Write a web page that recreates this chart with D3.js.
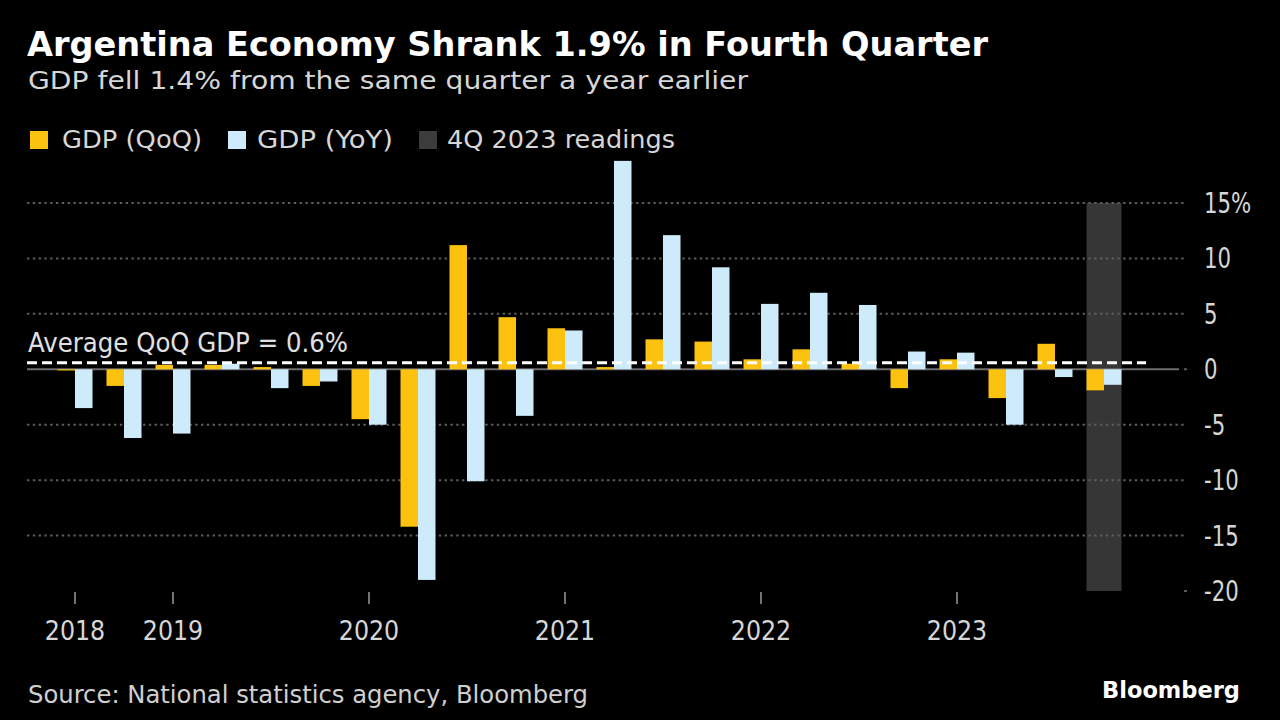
<!DOCTYPE html>
<html><head><meta charset="utf-8">
<script src="https://cdn.jsdelivr.net/npm/d3@7"></script>
<style>
html,body{margin:0;padding:0;background:#000;}
svg{display:block;}
text{font-family:"DejaVu Sans",sans-serif;}
</style></head><body>
<svg id="c" width="1280" height="720"></svg>
<script>
// ---- data ----
const quarters = ['2018Q3','2018Q4','2019Q1','2019Q2','2019Q3','2019Q4','2020Q1','2020Q2','2020Q3','2020Q4',
  '2021Q1','2021Q2','2021Q3','2021Q4','2022Q1','2022Q2','2022Q3','2022Q4','2023Q1','2023Q2','2023Q3','2023Q4'];
const qoq = [-0.1, -1.5, 0.4, 0.4, 0.2, -1.5, -4.5, -14.2, 11.2, 4.7, 3.7, 0.2, 2.7, 2.5, 0.9, 1.8, 0.5, -1.7, 0.9, -2.6, 2.3, -1.9];
const yoy = [-3.5, -6.2, -5.8, 0.5, -1.7, -1.1, -5.0, -19.0, -10.1, -4.2, 3.5, 18.8, 12.1, 9.2, 5.9, 6.9, 5.8, 1.6, 1.5, -5.0, -0.7, -1.4];
const yTicks = [15, 10, 5, 0, -5, -10, -15, -20];
const yTickLabels = ['15%', '10', '5', '0', '-5', '-10', '-15', '-20'];
const yearTickQuarters = ['2018Q3','2019Q1','2020Q1','2021Q1','2022Q1','2023Q1'];
const yearLabels = ['2018','2019','2020','2021','2022','2023'];
const avgQoQ = 0.6;
const highlightQuarter = '2023Q4';
const legendLabels = ['GDP (QoQ)', 'GDP (YoY)', '4Q 2023 readings'];
const seriesKeys = ['qoq', 'yoy'];

const titleText = 'Argentina Economy Shrank 1.9% in Fourth Quarter';
const subtitleText = 'GDP fell 1.4% from the same quarter a year earlier';
const avgLabelText = 'Average QoQ GDP = 0.6%';
const sourceText = 'Source: National statistics agency, Bloomberg';

// ---- styles ----
const C = { qoq: '#FCC20F', yoy: '#CDEBFA', hl: '#363636', grid: '#5c5c5c', zero: '#6e6e6e', text: '#d6d6d6' };

const svg = d3.select('#c');
svg.append('rect').attr('width', 1280).attr('height', 720).attr('fill', '#000');

const x = d3.scaleBand().domain(quarters).range([50.5, 1128.5]).paddingInner(0.2857).paddingOuter(0.1429);
const xs = d3.scaleBand().domain(seriesKeys).range([0, x.bandwidth()]);
const y = d3.scaleLinear().domain([-20, 15]).range([591, 203]);

function fitText(g, str, px, py, size, width, opts = {}) {
  const t = g.append('text').attr('x', px).attr('y', py).attr('font-size', size)
    .attr('fill', opts.fill || C.text).text(str);
  if (opts.weight) t.attr('font-weight', opts.weight);
  if (opts.family) t.attr('font-family', opts.family);
  if (width) t.attr('textLength', width).attr('lengthAdjust', 'spacingAndGlyphs');
  return t;
}

// highlight column
svg.append('rect')
  .attr('x', x(highlightQuarter)).attr('width', x.bandwidth())
  .attr('y', y(15)).attr('height', y(-20) - y(15))
  .attr('fill', C.hl);

// gridlines
const grid = svg.append('g');
grid.selectAll('line').data(yTicks.filter(t => t !== 0 && t !== -20)).join('line')
  .attr('x1', 27).attr('x2', 1187)
  .attr('y1', d => y(d)).attr('y2', d => y(d))
  .attr('stroke', C.grid).attr('stroke-width', 2).attr('stroke-dasharray', '2.4 3.4');
grid.append('line').attr('x1', 1184).attr('x2', 1187).attr('y1', y(-20)).attr('y2', y(-20))
  .attr('stroke', C.grid).attr('stroke-width', 2);
grid.append('line').attr('x1', 27).attr('x2', 1179).attr('y1', y(0)).attr('y2', y(0))
  .attr('stroke', C.zero).attr('stroke-width', 2);
grid.append('line').attr('x1', 1184).attr('x2', 1187).attr('y1', y(0)).attr('y2', y(0))
  .attr('stroke', C.grid).attr('stroke-width', 2);

// bars
const rows = quarters.map((q, i) => ({ q, qoq: qoq[i], yoy: yoy[i] }));
const groups = svg.append('g').selectAll('g').data(rows).join('g')
  .attr('transform', d => `translate(${x(d.q)},0)`);
groups.selectAll('rect').data(d => seriesKeys.map(k => ({ k, v: d[k] }))).join('rect')
  .attr('x', d => xs(d.k)).attr('width', xs.bandwidth())
  .attr('y', d => y(Math.max(0, d.v))).attr('height', d => Math.abs(y(d.v) - y(0)))
  .attr('fill', d => C[d.k]);

// average line
svg.append('line').attr('x1', 27).attr('x2', 1146).attr('y1', y(avgQoQ)).attr('y2', y(avgQoQ))
  .attr('stroke', '#ffffff').attr('stroke-width', 3).attr('stroke-dasharray', '10 5');
fitText(svg, avgLabelText, 28, 352, 26, 320, { fill: '#e0e0e0' });

// y axis labels
const yl = svg.append('g');
yl.selectAll('text').data(yTicks).join('text')
  .attr('transform', d => `translate(1204,${y(d) + 10}) scale(0.76,1)`)
  .attr('font-size', 28).attr('fill', C.text)
  .text((d, i) => yTickLabels[i]);

// x axis
const xAxis = d3.axisBottom(x).tickValues(yearTickQuarters)
  .tickFormat(q => yearLabels[yearTickQuarters.indexOf(q)]).tickSize(12).tickPadding(0);
const xg = svg.append('g').attr('transform', 'translate(0,592)').call(xAxis);
xg.select('.domain').remove();
xg.selectAll('.tick line').attr('stroke', '#9a9a9a').attr('stroke-width', 1.5);
xg.selectAll('.tick text').attr('font-size', 27).attr('fill', C.text)
  .attr('font-family', '"DejaVu Sans",sans-serif')
  .attr('y', 48).attr('dy', 0)
  .attr('transform', 'scale(0.88,1)');

// titles
fitText(svg, titleText, 27, 56, 33, 961, { fill: '#ffffff', weight: 'bold' });
fitText(svg, subtitleText, 28, 89, 24, 720);

// legend
const leg = [
  { sx: 30, tx: 62, w: 140, c: C.qoq },
  { sx: 228, tx: 257, w: 136, c: C.yoy },
  { sx: 419, tx: 447, w: 228, c: '#3c3c3c' }
];
leg.forEach((L, i) => {
  svg.append('rect').attr('x', L.sx).attr('y', 131).attr('width', 18).attr('height', 18).attr('fill', L.c);
  fitText(svg, legendLabels[i], L.tx, 148, 24, L.w);
});

// footer
fitText(svg, sourceText, 28, 703, 25, 560, { fill: '#cfcfcf' });
fitText(svg, 'Bloomberg', 1102, 698, 23, 138, { fill: '#ffffff', weight: 'bold', family: 'Inter, "DejaVu Sans", sans-serif' });
</script>
</body></html>
